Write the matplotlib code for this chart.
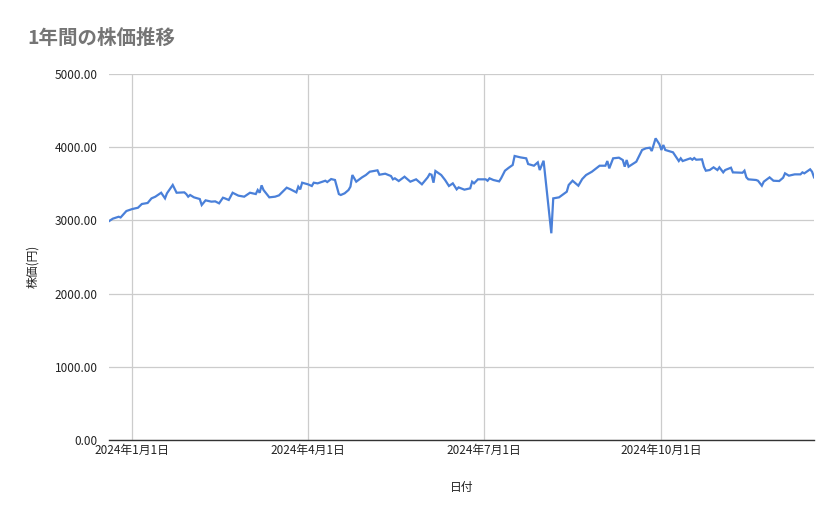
import pandas as pd
import matplotlib.dates as mdates
from matplotlib import pyplot as plt

plt.rcParams['font.family'] = ['Noto Sans CJK JP', 'DejaVu Sans']

dates = [
    '2023-12-20', '2023-12-22', '2023-12-25', '2023-12-26', '2023-12-29',
    '2024-01-01', '2024-01-04', '2024-01-06', '2024-01-09', '2024-01-11',
    '2024-01-13', '2024-01-16', '2024-01-18', '2024-01-19', '2024-01-22',
    '2024-01-24', '2024-01-28', '2024-01-29', '2024-01-30', '2024-01-31',
    '2024-02-02', '2024-02-05', '2024-02-06', '2024-02-08', '2024-02-11',
    '2024-02-13', '2024-02-15', '2024-02-17', '2024-02-18', '2024-02-20',
    '2024-02-22', '2024-02-25', '2024-02-28', '2024-03-02', '2024-03-05',
    '2024-03-06', '2024-03-07', '2024-03-08', '2024-03-09', '2024-03-12',
    '2024-03-15', '2024-03-17', '2024-03-21', '2024-03-23', '2024-03-26',
    '2024-03-27', '2024-03-28', '2024-03-29', '2024-04-01', '2024-04-03',
    '2024-04-04', '2024-04-06', '2024-04-10', '2024-04-11', '2024-04-13',
    '2024-04-15', '2024-04-17', '2024-04-18', '2024-04-20', '2024-04-22',
    '2024-04-23', '2024-04-24', '2024-04-26', '2024-04-29', '2024-05-01',
    '2024-05-03', '2024-05-05', '2024-05-07', '2024-05-08', '2024-05-11',
    '2024-05-14', '2024-05-15', '2024-05-16', '2024-05-18', '2024-05-21',
    '2024-05-24', '2024-05-27', '2024-05-30', '2024-06-02', '2024-06-03',
    '2024-06-04', '2024-06-05', '2024-06-06', '2024-06-09', '2024-06-11',
    '2024-06-13', '2024-06-15', '2024-06-17', '2024-06-18', '2024-06-21',
    '2024-06-24', '2024-06-25', '2024-06-26', '2024-06-28', '2024-07-02',
    '2024-07-03', '2024-07-04', '2024-07-06', '2024-07-09', '2024-07-10',
    '2024-07-12', '2024-07-14', '2024-07-16', '2024-07-17', '2024-07-20',
    '2024-07-23', '2024-07-24', '2024-07-27', '2024-07-29', '2024-07-30',
    '2024-08-01', '2024-08-05', '2024-08-06', '2024-08-09', '2024-08-13',
    '2024-08-14', '2024-08-16', '2024-08-19', '2024-08-21', '2024-08-23',
    '2024-08-26', '2024-08-30', '2024-09-02', '2024-09-03', '2024-09-04',
    '2024-09-06', '2024-09-09', '2024-09-11', '2024-09-12', '2024-09-13',
    '2024-09-14', '2024-09-18', '2024-09-21', '2024-09-23', '2024-09-25',
    '2024-09-26', '2024-09-28', '2024-09-30', '2024-10-01', '2024-10-02',
    '2024-10-03', '2024-10-07', '2024-10-10', '2024-10-11', '2024-10-12',
    '2024-10-16', '2024-10-17', '2024-10-18', '2024-10-19', '2024-10-22',
    '2024-10-23', '2024-10-24', '2024-10-26', '2024-10-28', '2024-10-30',
    '2024-10-31', '2024-11-02', '2024-11-03', '2024-11-06', '2024-11-07',
    '2024-11-12', '2024-11-13', '2024-11-14', '2024-11-15', '2024-11-19',
    '2024-11-20', '2024-11-22', '2024-11-23', '2024-11-26', '2024-11-28',
    '2024-12-01', '2024-12-03', '2024-12-04', '2024-12-06', '2024-12-09',
    '2024-12-12', '2024-12-13', '2024-12-14', '2024-12-17', '2024-12-18',
    '2024-12-19',
]

prices = [
    2990, 3024, 3050, 3040, 3128,
    3155, 3173, 3224, 3238, 3301,
    3324, 3378, 3301, 3370, 3484,
    3378, 3383, 3360, 3324, 3347,
    3315, 3292, 3210, 3274, 3256,
    3260, 3233, 3310, 3301, 3279,
    3378, 3338, 3324, 3378, 3360,
    3415, 3378, 3479, 3415, 3315,
    3324, 3342, 3447, 3424, 3383,
    3461, 3424, 3515, 3493, 3470,
    3515, 3506, 3542, 3524, 3565,
    3552, 3360, 3347, 3370, 3415,
    3461, 3620, 3529, 3588, 3620,
    3665, 3675, 3684, 3624, 3638,
    3606, 3561, 3575, 3538, 3597,
    3529, 3561, 3493, 3588, 3634,
    3624, 3515, 3675, 3620, 3552,
    3470, 3506, 3424, 3451, 3420,
    3438, 3529, 3506, 3561, 3561,
    3542, 3575, 3552, 3533, 3575,
    3679, 3720, 3757, 3880, 3861,
    3848, 3770, 3747, 3793, 3688,
    3815, 2824, 3301, 3315, 3392,
    3484, 3542, 3474, 3565, 3620,
    3665, 3747, 3747, 3811, 3711,
    3848, 3857, 3825, 3734, 3825,
    3734, 3802, 3962, 3985, 3993,
    3948, 4121, 4039, 3962, 4030,
    3962, 3930, 3811, 3848, 3811,
    3848, 3829, 3852, 3829, 3834,
    3734, 3679, 3688, 3725, 3688,
    3725, 3656, 3688, 3720, 3656,
    3651, 3679, 3588, 3561, 3552,
    3542, 3474, 3529, 3588, 3542,
    3538, 3583, 3643, 3611, 3629,
    3629, 3656, 3643, 3698, 3665,
    3588,
]

tick_dates = ['2024-01-01', '2024-04-01', '2024-07-01', '2024-10-01']
tick_labels = ['2024年1月1日', '2024年4月1日', '2024年7月1日', '2024年10月1日']
y_ticks = [0, 1000, 2000, 3000, 4000, 5000]

x = pd.to_datetime(dates)

fig = plt.figure(figsize=(8.39, 5.19), dpi=100)
ax = fig.add_axes([109 / 839, 1 - 440 / 519, 705 / 839, 366 / 519])

ax.plot(x, prices, color='#4a80d9', linewidth=1.6, solid_joinstyle='miter')

ax.set_xlim(x.min(), x.max())
ax.set_ylim(0, 5000)
ax.set_yticks(y_ticks)
ax.set_yticklabels([f'{v:.2f}' for v in y_ticks])
ax.set_xticks(pd.to_datetime(tick_dates))
ax.set_xticklabels(tick_labels)

ax.grid(True, color='#cccccc', linewidth=0.9)
ax.set_axisbelow(True)
for s in ['top', 'right', 'left']:
    ax.spines[s].set_visible(False)
ax.spines['bottom'].set_color('#333333')
ax.spines['bottom'].set_linewidth(1.0)
ax.tick_params(axis='both', length=0, labelsize=8.5, colors='#222222')
ax.tick_params(axis='y', pad=8)
ax.tick_params(axis='x', pad=3)

fig.text(27 / 839, 1 - 38 / 519, '1年間の株価推移', fontsize=14, fontweight='bold',
         color='#757575', ha='left', va='center')
fig.text(33 / 839, 1 - 266 / 519, '株価(円)', fontsize=8.5, rotation=90,
         ha='center', va='center', color='#222222')
fig.text(462 / 839, 1 - 487 / 519, '日付', fontsize=8.5, ha='center', va='center',
         color='#222222')

plt.savefig('out.png', dpi=100)
